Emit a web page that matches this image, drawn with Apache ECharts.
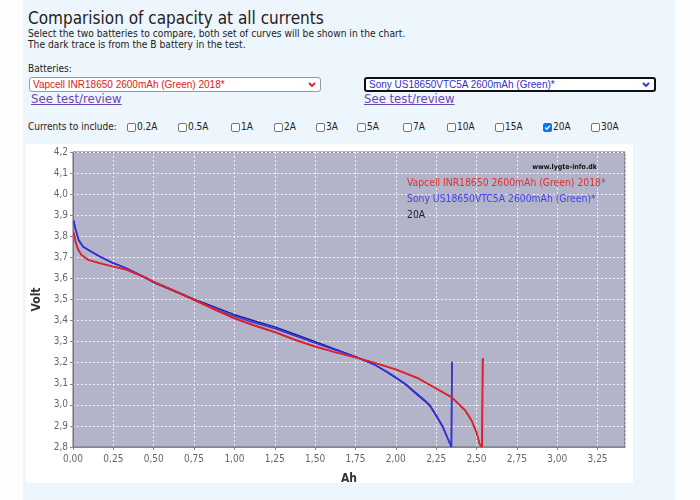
<!DOCTYPE html>
<html>
<head>
<meta charset="utf-8">
<script src="https://cdn.jsdelivr.net/npm/echarts@6/dist/echarts.min.js"></script>
<style>
    body { margin: 0; background: #fdfdfd; font-family: "DejaVu Sans Condensed", "DejaVu Sans", sans-serif; }
    #page { position: absolute; left: 23px; top: 0; width: 652px; height: 500px; background: #eef6fd; }
    .t { position: absolute; white-space: nowrap; color: #222; }
    .sel { position: absolute; height: 13px; background: #fff; border-radius: 3px; font-family: "Liberation Sans", Arial, sans-serif; font-size: 10px; line-height: 13px; padding-left: 3px; box-sizing: content-box; }
    .sel svg { position: absolute; right: 4px; top: 4px; }
    .lnk { position: absolute; color: #6b45b8; text-decoration: underline; font-size: 13px; white-space: nowrap; }
    .cb { position: absolute; top: 123px; width: 7px; height: 7px; border: 1px solid #767676; border-radius: 2px; background: #fff; }
    .cb.on { background: #0075ff; border-color: #0075ff; }
    .cbl { position: absolute; top: 121px; font-size: 10px; color: #222; white-space: nowrap; }
    #chart { position: absolute; left: 26px; top: 144px; width: 607px; height: 339px; background: #fff; }
</style>
</head>
<body>
<div id="page"></div>
<div class="t" style="left:28px;top:8px;font-size:17px;">Comparision of capacity at all currents</div>
<div class="t" style="left:28px;top:28px;font-size:10.2px;">Select the two batteries to compare, both set of curves will be shown in the chart.</div>
<div class="t" style="left:28px;top:39px;font-size:10.2px;">The dark trace is from the B battery in the test.</div>
<div class="t" style="left:28px;top:63px;font-size:10px;">Batteries:</div>
<div class="sel" style="left:29px;top:77px;width:287px;border:1px solid #999;color:#e02020;">Vapcell INR18650 2600mAh (Green) 2018*
    <svg width="8" height="6" viewBox="0 0 8 6"><path d="M1 1 L4 4 L7 1" stroke="#e02020" stroke-width="1.8" fill="none"/></svg></div>
<div class="sel" style="left:364px;top:77px;width:285px;border:2px solid #111;height:11px;line-height:11px;color:#3030d0;">Sony US18650VTC5A 2600mAh (Green)*
    <svg width="8" height="6" viewBox="0 0 8 6" style="top:3px"><path d="M1 1 L4 4 L7 1" stroke="#3030d0" stroke-width="1.8" fill="none"/></svg></div>
<div class="lnk" style="left:31px;top:91px;">See test/review</div>
<div class="lnk" style="left:364px;top:91px;">See test/review</div>
<div class="t" style="left:28px;top:121px;font-size:10px;">Currents to include:</div>
<div id="cbs"></div>
<div id="chart"></div>
<script>
    var currents = ['0.2A', '0.5A', '1A', '2A', '3A', '5A', '7A', '10A', '15A', '20A', '30A'];
    var currentBoxX = [127, 178, 231, 274, 316, 357, 403, 447, 495, 543, 591];
    var selectedCurrent = '20A';

    var batteryA = 'Vapcell INR18650 2600mAh (Green) 2018*';
    var batteryB = 'Sony US18650VTC5A 2600mAh (Green)*';

    // [Ah, Volt]
    var vapcellA = [[0.005, 3.819], [0.016, 3.776], [0.031, 3.74], [0.052, 3.713], [0.093, 3.689], [0.165, 3.673],
        [0.248, 3.657], [0.33, 3.643], [0.455, 3.603], [0.5, 3.585], [0.625, 3.543], [0.75, 3.50], [0.875, 3.455],
        [1.0, 3.413], [1.125, 3.378], [1.25, 3.347], [1.375, 3.31], [1.5, 3.278], [1.625, 3.25], [1.75, 3.226],
        [1.85, 3.204], [2.0, 3.169], [2.14, 3.126], [2.25, 3.078], [2.345, 3.038], [2.43, 2.975], [2.47, 2.927],
        [2.50, 2.872], [2.52, 2.816], [2.533, 2.80], [2.537, 3.217]];
    var vapcellB = [[0.005, 3.815], [0.016, 3.772], [0.031, 3.737], [0.052, 3.711], [0.093, 3.688], [0.165, 3.672],
        [0.248, 3.656], [0.33, 3.641], [0.455, 3.601], [0.5, 3.583], [0.625, 3.541], [0.75, 3.497], [0.875, 3.452],
        [1.0, 3.41], [1.125, 3.375], [1.25, 3.344], [1.375, 3.308], [1.5, 3.276], [1.625, 3.249], [1.75, 3.225],
        [1.85, 3.203], [2.0, 3.168], [2.14, 3.125], [2.25, 3.077], [2.345, 3.036], [2.43, 2.972], [2.47, 2.924],
        [2.50, 2.868], [2.52, 2.812], [2.535, 2.80], [2.54, 3.222]];
    var sonyA = [[0.005, 3.876], [0.012, 3.845], [0.02, 3.824], [0.035, 3.784], [0.062, 3.752], [0.104, 3.732], [0.165, 3.705],
        [0.248, 3.673], [0.33, 3.648], [0.455, 3.60], [0.5, 3.58], [0.625, 3.54], [0.75, 3.498], [0.875, 3.458],
        [1.0, 3.42], [1.125, 3.39], [1.25, 3.362], [1.375, 3.328], [1.5, 3.293], [1.625, 3.26], [1.75, 3.228],
        [1.87, 3.19], [1.94, 3.16], [2.0, 3.131], [2.06, 3.10], [2.118, 3.062], [2.18, 3.022], [2.21, 3.0], [2.25, 2.952],
        [2.29, 2.90], [2.345, 2.80], [2.347, 3.204]];
    var sonyB = [[0.005, 3.872], [0.012, 3.842], [0.02, 3.82], [0.035, 3.781], [0.062, 3.75], [0.104, 3.731], [0.165, 3.704],
        [0.248, 3.673], [0.33, 3.649], [0.455, 3.602], [0.5, 3.583], [0.625, 3.543], [0.75, 3.502], [0.875, 3.465],
        [1.0, 3.428], [1.125, 3.398], [1.25, 3.37], [1.375, 3.335], [1.5, 3.30], [1.625, 3.264], [1.75, 3.229],
        [1.87, 3.19], [1.94, 3.158], [2.0, 3.128], [2.06, 3.097], [2.118, 3.058], [2.18, 3.018], [2.21, 2.996], [2.25, 2.948],
        [2.29, 2.896], [2.344, 2.80], [2.348, 3.204]];

    var xMin = 0, xMax = 3.42, xStep = 0.25;
    var yMin = 2.8, yMax = 4.2, yStep = 0.1;

    //复选框
    var cbHtml = '';
    for (var i = 0; i < currents.length; i++) {
        var on = currents[i] === selectedCurrent ? ' on' : '';
        cbHtml += '<div class="cb' + on + '" style="left:' + currentBoxX[i] + 'px">' +
            (on ? '<svg width="7" height="7" viewBox="0 0 7 7" style="position:absolute;left:0;top:0"><path d="M1.2 3.6 L2.9 5.2 L5.9 1.6" stroke="#fff" stroke-width="1.4" fill="none"/></svg>' : '') +
            '</div><div class="cbl" style="left:' + (currentBoxX[i] + 10) + 'px">' + currents[i] + '</div>';
    }
    document.getElementById('cbs').innerHTML = cbHtml;

    var gridColor = '#eeeef4';
    var labelColor = '#666';
    var font = '"DejaVu Sans Condensed", "DejaVu Sans", sans-serif';

    var option = {
        animation: false,
        grid: {
            left: 47, top: 8, right: 8, bottom: 36,
            outerBoundsMode: 'none',
            containLabel: false,
            show: true,
            backgroundColor: '#b3b3c9',
            borderColor: '#6a6a6a',
            borderWidth: 1
        },
        xAxis: {
            type: 'value',
            min: xMin, max: xMax, interval: xStep,
            name: 'Ah',
            nameLocation: 'middle',
            nameGap: 26,
            nameTextStyle: { color: '#333', fontWeight: 'bold', fontSize: 12, fontFamily: font },
            axisLine: { lineStyle: { color: '#888' } },
            axisTick: { show: true, length: 3, lineStyle: { color: '#888' } },
            axisLabel: {
                color: labelColor, fontSize: 10, fontFamily: font, margin: 7,
                showMaxLabel: false,
                formatter: function(v) { return v.toFixed(2).replace('.', ','); }
            },
            splitLine: { show: true, lineStyle: { color: gridColor, type: [2, 2] } }
        },
        yAxis: {
            type: 'value',
            min: yMin, max: yMax, interval: yStep,
            name: 'Volt',
            nameLocation: 'middle',
            nameGap: 30,
            nameTextStyle: { color: '#333', fontWeight: 'bold', fontSize: 12, fontFamily: font },
            axisLine: { show: true, lineStyle: { color: '#777' } },
            axisTick: { show: true, length: 3, lineStyle: { color: '#888' } },
            axisLabel: {
                color: labelColor, fontSize: 10, fontFamily: font, margin: 5,
                formatter: function(v) { return v.toFixed(1).replace('.', ','); }
            },
            splitLine: { show: true, lineStyle: { color: gridColor, type: [2, 2] } }
        },
        graphic: [
            { type: 'text', right: 36, top: 20, z: 100, style: { text: 'www.lygte-info.dk', fill: '#111', font: 'bold 7px ' + font } },
            { type: 'text', left: 381, top: 34, z: 100, style: { text: batteryA, fill: '#e03030', font: '10.3px ' + font } },
            { type: 'text', left: 381, top: 50, z: 100, style: { text: batteryB, fill: '#4444e8', font: '10.3px ' + font } },
            { type: 'text', left: 381, top: 66, z: 100, style: { text: selectedCurrent, fill: '#222', font: '10.3px ' + font } }
        ],
        series: [
            { type: 'line', name: batteryB + ' B', data: sonyB, showSymbol: false, lineStyle: { color: '#1c1ca0', width: 1.5 } },
            { type: 'line', name: batteryB, data: sonyA, showSymbol: false, lineStyle: { color: '#3333e0', width: 1.5 } },
            { type: 'line', name: batteryA + ' B', data: vapcellB, showSymbol: false, lineStyle: { color: '#b81c24', width: 1.5 } },
            { type: 'line', name: batteryA, data: vapcellA, showSymbol: false, lineStyle: { color: '#e4242c', width: 1.5 } }
        ]
    };
    var chart = echarts.init(document.getElementById('chart'));
    chart.setOption(option);
    window.onresize = function() {
        chart.resize();
    };
</script>
</body>
</html>
